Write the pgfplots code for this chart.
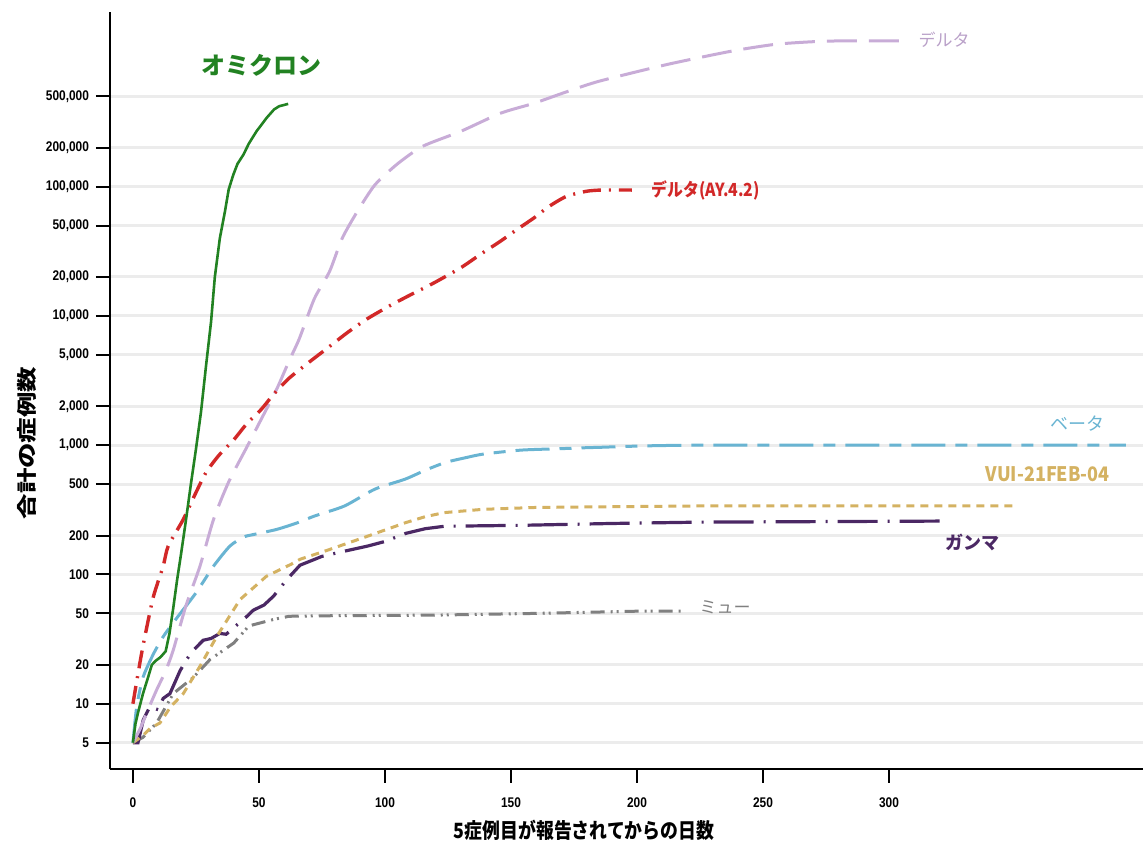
\documentclass[border=0pt]{standalone}
\usepackage{fontspec}
\usepackage{graphicx}
\usepackage{pgfplots}
\pgfplotsset{compat=1.18}
\setmainfont{Liberation Sans}
\newfontfamily\condf{Liberation Sans}[FakeStretch=0.85]
\newfontfamily\jp{Noto Sans CJK JP}
\definecolor{omi}{RGB}{34,130,34}
\definecolor{dlt}{RGB}{200,172,215}
\definecolor{dlttxt}{RGB}{185,160,200}
\definecolor{ay}{RGB}{210,40,40}
\definecolor{bet}{RGB}{105,180,210}
\definecolor{vui}{RGB}{212,178,98}
\definecolor{gam}{RGB}{75,40,100}
\definecolor{mu}{RGB}{128,128,128}
\definecolor{grd}{RGB}{236,236,236}
\begin{document}
\begin{tikzpicture}
\path[use as bounding box] (-55pt,-38.5pt) rectangle (516.5pt,384.5pt);
\begin{axis}[
  at={(0,0)}, anchor=south west,
  scale only axis, width=516.5pt, height=378.5pt,
  ymode=log, xmin=-9.1, xmax=400.8, ymin=3.13, ymax=2.24e6,
  axis lines*=left,
  axis line style={line width=1.25pt, black},
  tick align=outside,
  major tick length=7pt,
  tick style={line width=1pt, black},
  ytick={5,10,20,50,100,200,500,1000,2000,5000,10000,20000,50000,100000,200000,500000},
  yticklabels={5,10,20,50,100,200,500,{1,000},{2,000},{5,000},{10,000},{20,000},{50,000},{100,000},{200,000},{500,000}},
  xtick={0,50,100,150,200,250,300},
  xticklabels={0,50,100,150,200,250,300},
  minor y tick num=0,
  ymajorgrids,
  major grid style={grd, line width=1.5pt},
  tick label style={font=\condf\bfseries\fontsize{7}{8}\selectfont},
  xticklabel style={yshift=-4pt},
  clip=false,
]
% Mu
\addplot[mu, line width=1.5pt, dash pattern=on 7pt off 3pt on 1pt off 2pt on 1pt off 3pt] table {
x y
0 5
4 5.5
9.4 7.1
16 12
24 16
30.6 22
40 29.5
46 40
56 45
62 47.5
80 48
120 48.5
160 50
200 52
218 52
};
% Gamma
\addplot[gam, line width=1.6pt, dash pattern=on 20pt off 5pt on 1pt off 5pt] table {
x y
0 5
2 5
4.1 7.5
6.7 9.5
10 9
12 11
14.7 12
18.7 18
21.3 22
24 26
27.9 31
31 32
34.5 35
37 34.5
39.8 38.6
44 45
47.8 53
52 58
55.8 68
61 91
66.3 118
75 138
83 150
93.2 166
100 180
108.3 208
116 226
123.6 236
154 240
190 248
225 254
324 259
};
% VUI
\addplot[vui, line width=1.5pt, dash pattern=on 4pt off 3pt] table {
x y
0 5
4.1 5.7
7 6.5
10.7 7.1
15 9.5
20 12
26.6 19.5
33.2 33
42.5 64
53 97
62.8 120
66.3 131
78 156
93.2 198
108.3 252
116 280
123.6 301
138.8 319
160 330
225 339
349 340
};
% Beta
\addplot[bet, line width=1.5pt, smooth, tension=0.4, dash pattern=on 17pt off 5pt on 6pt off 5pt] table {
x y
0 5
1.5 9.5
4 16
8 24
12 33
17 45
25 72
32 116
38.5 166
44 195
48 204
57 223
65 250
72 283
84 339
96 457
108 546
116 640
124 735
132 800
139 853
154 916
170 940
184 961
225 1000
394 1000
};
% Delta
\addplot[dlt, line width=1.5pt, smooth, tension=0.4, dash pattern=on 15pt off 6pt] table {
x y
0 5
3 6.5
6 9
9.4 12.8
13 18
16 26
21 57
26.6 116
32 267
38 520
45 950
51 1600
57 2700
62 4500
66 6650
72 13600
78 22000
83 39700
89 64000
96 103000
105 150000
115 205000
130 267000
146 370000
159 440000
172 540000
185 653000
212 880000
238 1120000
255 1260000
270 1320000
282 1340000
304 1340000
};
% Delta AY.4.2
\addplot[ay, line width=1.7pt, smooth, tension=0.4, dash pattern=on 9pt off 4pt on 1pt off 4pt] table {
x y
0 10
2 17
4 28
8 66
12 116
14 166
20 267
25 430
29 615
34 830
40 1100
45 1450
51 1900
56 2500
62 3300
70 4400
77 5600
85 7400
93 9500
102 12000
110 14500
119 17800
130 23500
138 30000
146 38000
152 46000
159 57000
165 70000
172 84000
180 92000
186 94000
198 94000
};
% Omicron
\addplot[omi, line width=1.3pt] table {
x y
0 5
1 7
2 8.5
4 12
6 16
7.5 20
9 21.5
11 23
13 25.5
14.5 35
16 55
17.5 90
19 140
21 260
23 500
25 930
27 1800
29 4100
31 9000
32.5 20000
34.5 40000
36.5 64000
38 95000
39.8 123000
41.5 150000
43.8 176000
46 215000
49 267000
53 339000
56 395000
58 418000
61.6 436000
};
\node[text=omi, font=\jp\bfseries\fontsize{12}{12}\selectfont] at (axis cs:51.2,873000) {オミクロン};
\node[anchor=west, text=dlttxt, font=\jp\fontsize{8.5}{9}\selectfont] at (axis cs:309,1360000) {デルタ};
\node[anchor=west, text=ay, font=\jp\bfseries\fontsize{9}{9}\selectfont] at (axis cs:203,93500) {\scalebox{0.88}[1]{デルタ(AY.4.2)}};
\node[text=bet, font=\jp\fontsize{9}{9}\selectfont] at (axis cs:375,1460) {ベータ};
\node[text=vui, font=\jp\bfseries\fontsize{10}{10}\selectfont] at (axis cs:363,597) {\scalebox{0.9}[1]{VUI-21FEB-04}};
\node[text=gam, font=\jp\bfseries\fontsize{9}{9}\selectfont] at (axis cs:333,177) {ガンマ};
\node[text=mu, font=\jp\fontsize{8.5}{9}\selectfont] at (axis cs:235,55.5) {ミュー};
\end{axis}
\node[rotate=90, font=\jp\bfseries\fontsize{10}{10}\selectfont] at (-41.5pt,163pt) {\scalebox{1.27}[1]{合計の症例数}};
\node[font=\jp\bfseries\fontsize{10.5}{10.5}\selectfont] at (237pt,-30.5pt) {\scalebox{0.85}[1]{5症例目が報告されてからの日数}};
\end{tikzpicture}
\end{document}
